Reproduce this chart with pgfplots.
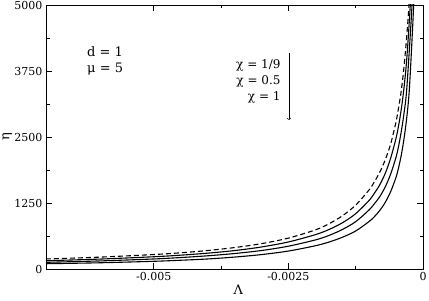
\documentclass[border=0pt]{standalone}
\usepackage{fontspec}
\setmainfont{DejaVu Serif}
\usepackage{pgfplots}
\pgfplotsset{compat=1.18}
\begin{document}
\begin{tikzpicture}
\begin{axis}[
  name=ax,
  scale only axis,
  width=377pt, height=264pt,
  xmin=-0.007, xmax=0, ymin=0, ymax=5000,
  scaled x ticks=false, scaled y ticks=false,
  xtick={-0.005,-0.0025,0},
  xticklabels={-0.005,-0.0025,0},
  ytick={0,1250,2500,3750,5000},
  yticklabels={0,1250,2500,3750,5000},
  /pgf/number format/assume math mode=true,
  minor x tick num=1, minor y tick num=1,
  tick align=inside, tick pos=both,
  major tick length=6pt, minor tick length=3.5pt,
  every tick/.style={black, line width=0.6pt},
  axis line style={line width=0.7pt},
  tick label style={font=\fontsize{11}{13}\selectfont, black},
  label style={font=\fontsize{13}{15}\selectfont},
  xlabel={Λ}, ylabel={η},
  xlabel style={at={(axis description cs:0.51,-0.078)}, anchor=center},
  ylabel style={at={(axis description cs:-0.103,0.5)}, anchor=center},
  clip=true,
]
\addplot[black, line width=1.1pt, smooth, dash pattern=on 5pt off 3pt] coordinates {
(-0.007,190) (-0.006,225) (-0.005,274) (-0.0045,307) (-0.004,350) (-0.0035,406)
(-0.003,480) (-0.0025,585) (-0.002,740) (-0.00175,855) (-0.0015,1005) (-0.00125,1210)
(-0.001,1500) (-0.0009,1655) (-0.0008,1840) (-0.0007,2070) (-0.0006,2370)
(-0.0005,2790) (-0.00045,3075) (-0.0004,3400) (-0.00035,3857) (-0.0003,4433)
(-0.00026,5000) (-0.00022,5818)};
\addplot[black, line width=1.1pt, smooth] coordinates {
(-0.007,157) (-0.006,188) (-0.005,232) (-0.0045,262) (-0.004,300) (-0.0035,349)
(-0.003,417) (-0.0025,512) (-0.002,650) (-0.00175,746) (-0.0015,873) (-0.00125,1048)
(-0.001,1300) (-0.0009,1439) (-0.0008,1600) (-0.0007,1814) (-0.0006,2100)
(-0.0005,2480) (-0.00045,2733) (-0.0004,3050) (-0.00035,3457) (-0.0003,4000)
(-0.000236,5000) (-0.0002,5900)};
\addplot[black, line width=1.1pt, smooth] coordinates {
(-0.007,127) (-0.006,153) (-0.005,190) (-0.0045,217) (-0.004,250) (-0.0035,293)
(-0.003,350) (-0.0025,432) (-0.002,550) (-0.00175,634) (-0.0015,747) (-0.00125,896)
(-0.001,1120) (-0.0009,1239) (-0.0008,1375) (-0.0007,1557) (-0.0006,1800)
(-0.0005,2120) (-0.00045,2344) (-0.0004,2625) (-0.00035,2971) (-0.0003,3433)
(-0.000204,5000) (-0.00017,6000)};
\addplot[black, line width=1.1pt, smooth] coordinates {
(-0.007,100) (-0.006,118) (-0.005,146) (-0.0045,166) (-0.004,190) (-0.0035,226)
(-0.003,273) (-0.0025,340) (-0.002,440) (-0.00175,509) (-0.0015,600) (-0.00125,720)
(-0.001,900) (-0.0009,994) (-0.0008,1112) (-0.0007,1264) (-0.0006,1467)
(-0.0005,1740) (-0.00045,1933) (-0.0004,2175) (-0.00035,2486) (-0.0003,2883)
(-0.00025,3460) (-0.000173,5000) (-0.00015,5767)};
\node[anchor=west, font=\fontsize{13}{15}\selectfont] at (axis cs:-0.0063,4110) {d = 1};
\node[anchor=west, font=\fontsize{13}{15}\selectfont] at (axis cs:-0.0063,3788) {μ = 5};
\node[anchor=east, font=\fontsize{12}{14}\selectfont] at (axis cs:-0.00258,3864) {χ = 1/9};
\node[anchor=east, font=\fontsize{12}{14}\selectfont] at (axis cs:-0.00258,3561) {χ = 0.5};
\node[anchor=east, font=\fontsize{12}{14}\selectfont] at (axis cs:-0.00258,3258) {χ = 1};
\draw[->, line width=0.6pt] (axis cs:-0.00249,4091) -- (axis cs:-0.00249,2822);
\end{axis}
\pgfresetboundingbox
\path ([xshift=-46pt,yshift=-31pt]ax.south west) rectangle ([xshift=6pt,yshift=5pt]ax.north east);
\end{tikzpicture}
\end{document}
